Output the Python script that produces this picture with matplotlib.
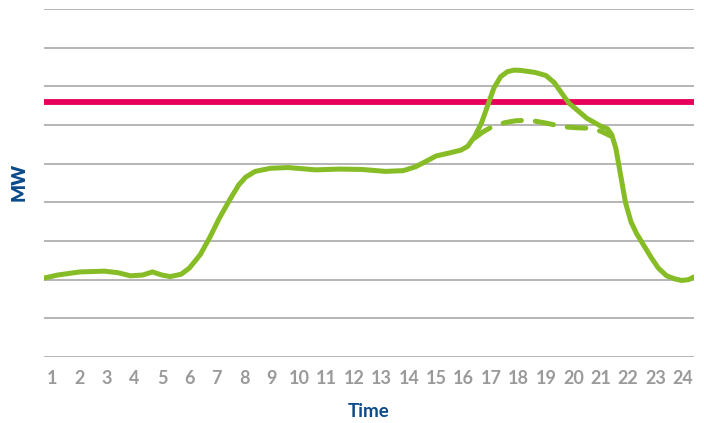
import matplotlib.pyplot as plt

# hourly load profile (MW), read at sub-hour steps to keep the shape smooth
hours = [0.7, 1.2, 2.0, 2.9, 3.4, 3.85, 4.3, 4.65, 5.0, 5.3, 5.7, 6.0, 6.4,
         6.75, 7.1, 7.5, 7.8, 8.05, 8.4, 8.95, 9.6, 10.6, 11.5, 12.3, 13.15,
         13.8, 14.25, 14.6, 15.0, 15.5, 15.9, 16.15, 16.4, 16.65, 16.85,
         17.1, 17.35, 17.6, 17.85, 18.1, 18.6, 19.0, 19.3, 19.5, 19.7,
         19.85, 20.2, 20.5, 20.8, 21.0, 21.25, 21.4, 21.55, 21.7, 21.9,
         22.1, 22.3, 22.6, 22.85, 23.1, 23.4, 23.7, 23.95, 24.2, 24.4]
load = [2.04, 2.12, 2.2, 2.22, 2.18, 2.1, 2.12, 2.2, 2.12, 2.08, 2.14,
        2.3, 2.65, 3.1, 3.6, 4.1, 4.45, 4.65, 4.8, 4.88, 4.9, 4.84, 4.86,
        4.85, 4.8, 4.82, 4.92, 5.05, 5.2, 5.28, 5.35, 5.45, 5.7, 6.05,
        6.45, 6.95, 7.25, 7.38, 7.42, 7.41, 7.36, 7.28, 7.1, 6.9, 6.7,
        6.56, 6.35, 6.17, 6.05, 5.97, 5.9, 5.75, 5.4, 4.8, 4.0, 3.5, 3.2,
        2.85, 2.56, 2.3, 2.1, 2.02, 1.98, 2.0, 2.07]

# shaved peak (dashed)
shaved_hours = [16.4, 16.7, 17.0, 17.5, 17.9, 18.25, 18.6, 19.0, 19.4,
                19.7, 20.1, 20.45, 20.75, 21.0, 21.35]
shaved_load = [5.66, 5.82, 5.94, 6.06, 6.11, 6.12, 6.1, 6.05, 5.99, 5.95,
               5.93, 5.92, 5.88, 5.84, 5.72]

limit = 6.6
tick_hours = list(range(1, 25))

green = "#86bc25"
red = "#e6005a"
navy = "#0b4a8b"

fig = plt.figure(figsize=(7.04, 4.23), dpi=100)
ax = fig.add_axes([44 / 704, 1 - 357 / 423, 650 / 704, 348 / 423])

for v in range(10):
    ax.axhline(v, color="#b0b0b0", lw=1.3, zorder=1)

ax.axhline(limit, color=red, lw=4.2, solid_capstyle="round", zorder=3)
ax.plot(hours, load, color=green, lw=3.6, solid_joinstyle="round",
        solid_capstyle="round", zorder=4)
ax.plot(shaved_hours, shaved_load, color=green, lw=3.6, ls=(0, (3.7, 2.8)),
        dash_capstyle="round", zorder=4)

ax.set_xlim(0.7, 24.4)
ax.set_ylim(0, 9)
ax.set_yticks([])
ax.set_xticks(tick_hours)
ax.set_xticklabels([str(h) for h in tick_hours], fontfamily="Lato",
                   fontweight="bold", fontsize=13, color="#9a9a9a")
ax.tick_params(axis="x", length=0, pad=9)
for s in ax.spines.values():
    s.set_visible(False)

ax.set_xlabel("Time", fontfamily="Lato", fontweight="bold", fontsize=13.5,
              color=navy, labelpad=12)
fig.text(19 / 704, 1 - 182 / 423, "MW", rotation=90, ha="center",
         va="center", fontfamily="Lato", fontweight="heavy", fontsize=13.5,
         color=navy)

fig.savefig("out.png", dpi=100)
